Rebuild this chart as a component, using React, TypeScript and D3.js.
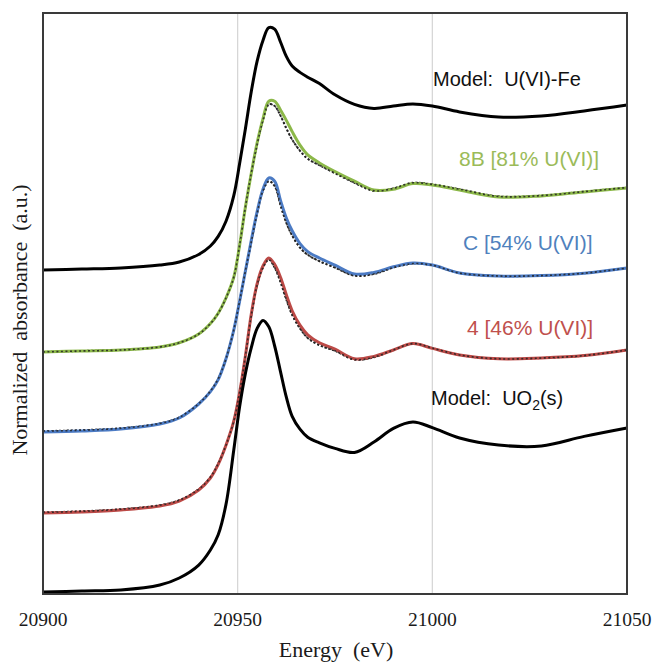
import React from "react";
import * as d3 from "d3";

const energy = [20900, 20910, 20920, 20930, 20935, 20940, 20943, 20945, 20947, 20949, 20950.5, 20952, 20953.5, 20955, 20956.5, 20958, 20959.5, 20961, 20962.5, 20964, 20966, 20968, 20971, 20975, 20980, 20985, 20990, 20995, 21000, 21007, 21017, 21028, 21039, 21050];

const modelUVIFe = [0.025, 0.031, 0.038, 0.056, 0.075, 0.122, 0.175, 0.235, 0.33, 0.49, 0.69, 0.91, 1.14, 1.33, 1.46, 1.54, 1.53, 1.45, 1.36, 1.3, 1.26, 1.23, 1.19, 1.12, 1.06, 1.035, 1.05, 1.063, 1.05, 1.013, 0.981, 0.988, 1.019, 1.056];
const sample8B = [0.013, 0.019, 0.025, 0.044, 0.07, 0.125, 0.19, 0.255, 0.35, 0.48, 0.68, 0.92, 1.13, 1.32, 1.47, 1.58, 1.58, 1.525, 1.46, 1.39, 1.306, 1.244, 1.194, 1.14, 1.08, 1.025, 1.03, 1.065, 1.056, 1.025, 0.981, 0.988, 1.013, 1.038];
const fit8B = [0.013, 0.019, 0.025, 0.044, 0.07, 0.125, 0.19, 0.255, 0.35, 0.48, 0.68, 0.92, 1.13, 1.31, 1.46, 1.56, 1.55, 1.49, 1.41, 1.34, 1.27, 1.22, 1.18, 1.13, 1.07, 1.02, 1.035, 1.07, 1.06, 1.03, 0.985, 0.99, 1.015, 1.04];
const sampleC = [0.0125, 0.019, 0.031, 0.0625, 0.1, 0.1875, 0.265, 0.34, 0.47, 0.65, 0.83, 1.02, 1.21, 1.39, 1.53, 1.6, 1.58, 1.46, 1.35, 1.27, 1.19, 1.14, 1.1, 1.055, 1.0, 1.01, 1.045, 1.069, 1.056, 1.006, 0.9875, 0.99, 1.005, 1.0375];
const fitC = [0.018, 0.024, 0.036, 0.066, 0.104, 0.19, 0.268, 0.345, 0.47, 0.65, 0.83, 1.02, 1.2, 1.38, 1.52, 1.58, 1.55, 1.43, 1.32, 1.24, 1.165, 1.12, 1.08, 1.04, 0.99, 1.0, 1.04, 1.065, 1.055, 1.006, 0.9875, 0.99, 1.005, 1.0375];
const sample4 = [0.006, 0.0125, 0.025, 0.05, 0.081, 0.15, 0.225, 0.31, 0.43, 0.58, 0.76, 0.99, 1.25, 1.44, 1.55, 1.6, 1.56, 1.48, 1.37, 1.27, 1.18, 1.12, 1.07, 1.03, 0.97, 0.985, 1.025, 1.065, 1.035, 0.994, 0.97, 0.975, 0.99, 1.025];
const fit4 = [0.01, 0.017, 0.03, 0.055, 0.086, 0.155, 0.23, 0.315, 0.43, 0.58, 0.76, 0.99, 1.24, 1.43, 1.54, 1.59, 1.54, 1.45, 1.34, 1.245, 1.16, 1.1, 1.055, 1.02, 0.965, 0.98, 1.025, 1.065, 1.037, 0.994, 0.97, 0.975, 0.99, 1.025];
const modelUO2 = [0.0125, 0.019, 0.025, 0.056, 0.1, 0.181, 0.275, 0.37, 0.56, 0.9, 1.17, 1.38, 1.54, 1.66, 1.71, 1.67, 1.55, 1.39, 1.23, 1.11, 1.03, 0.98, 0.945, 0.91, 0.885, 0.95, 1.035, 1.075, 1.04, 0.975, 0.931, 0.925, 0.985, 1.0375];

const offsets = [2.0, 1.5, 1.0, 0.5, 0.0];
const xTicks = [20900, 20950, 21000, 21050];
const gridTicks = [20950, 21000];

const seriesNames = ["Model:  U(VI)-Fe", "8B [81% U(VI)]", "C [54% U(VI)]", "4 [46% U(VI)]", "Model:  UO"];

export default function App() {
  const W = 656, H = 663;
  const left = 43, right = 627, top = 13, bottom = 594;
  const x = d3.scaleLinear().domain([20900, 21050]).range([left, right]);
  const y = d3.scaleLinear().domain([0, (bottom - top) / 160]).range([bottom, top]);

  const mk = (vals: number[], off: number) =>
    d3.line<number>()
      .x((_, i) => x(energy[i]))
      .y((v) => y(v + off))
      .curve(d3.curveCatmullRom.alpha(0.5))(vals) as string;

  const solid = [
    { v: modelUVIFe, off: offsets[0], c: "#000000" },
    { v: sample8B, off: offsets[1], c: "#8CB849" },
    { v: sampleC, off: offsets[2], c: "#4C7BC4" },
    { v: sample4, off: offsets[3], c: "#BC4A47" },
    { v: modelUO2, off: offsets[4], c: "#000000" },
  ];
  const fits = [
    { v: fit8B, off: offsets[1] },
    { v: fitC, off: offsets[2] },
    { v: fit4, off: offsets[3] },
  ];

  const labelFont = "'Liberation Sans', Arial, sans-serif";
  const serif = "'Liberation Serif', 'Times New Roman', serif";

  return (
    <div style={{ position: "absolute", left: 0, top: 0 }}>
      <svg width={W} height={H} style={{ display: "block", background: "#fff" }}>
        <rect x={0} y={0} width={W} height={H} fill="#fff" />
        {gridTicks.map((t) => (
          <line key={t} x1={x(t)} x2={x(t)} y1={top} y2={bottom} stroke="#d4d4d4" strokeWidth={1.2} />
        ))}
        {fits.map((f, i) => (
          <path key={"f" + i} d={mk(f.v, f.off)} fill="none" stroke="#222" strokeWidth={2} strokeDasharray="2,2" />
        ))}
        {solid.map((s, i) => (
          <path key={"s" + i} d={mk(s.v, s.off)} fill="none" stroke={s.c} strokeWidth={3} strokeLinejoin="round" />
        ))}
        {fits.map((f, i) => (
          <path key={"g" + i} d={mk(f.v, f.off)} fill="none" stroke="#222" strokeWidth={1.6} strokeDasharray="2,2.5" opacity={0.85} />
        ))}
        <rect x={left} y={top} width={right - left} height={bottom - top} fill="none" stroke="#3a3a3a" strokeWidth={2} />
        {xTicks.map((t) => (
          <text key={t} x={x(t)} y={626} textAnchor="middle" fontFamily={serif} fontSize={19.5} fill="#1a1a1a">
            {t}
          </text>
        ))}
        <text x={336} y={657} textAnchor="middle" fontFamily={serif} fontSize={22} fill="#1a1a1a" style={{ whiteSpace: "pre" }}>
          {"Energy  (eV)"}
        </text>
        <text transform="translate(27,320) rotate(-90)" textAnchor="middle" fontFamily={serif} fontSize={22} fill="#1a1a1a" style={{ whiteSpace: "pre" }}>
          {"Normalized  absorbance  (a.u.)"}
        </text>
        <text x={433} y={86} fontFamily={labelFont} fontSize={20} fill="#111" style={{ whiteSpace: "pre" }}>{seriesNames[0]}</text>
        <text x={459} y={166} fontFamily={labelFont} fontSize={21} fill="#9BBB59">{seriesNames[1]}</text>
        <text x={463} y={250} fontFamily={labelFont} fontSize={21} fill="#4F81BD">{seriesNames[2]}</text>
        <text x={467} y={335} fontFamily={labelFont} fontSize={21} fill="#C0504D">{seriesNames[3]}</text>
        <text x={431} y={405} fontFamily={labelFont} fontSize={20} fill="#111" style={{ whiteSpace: "pre" }}>
          {seriesNames[4]}
          <tspan fontSize={14} dy={5}>2</tspan>
          <tspan dy={-5}>(s)</tspan>
        </text>
      </svg>
    </div>
  );
}
